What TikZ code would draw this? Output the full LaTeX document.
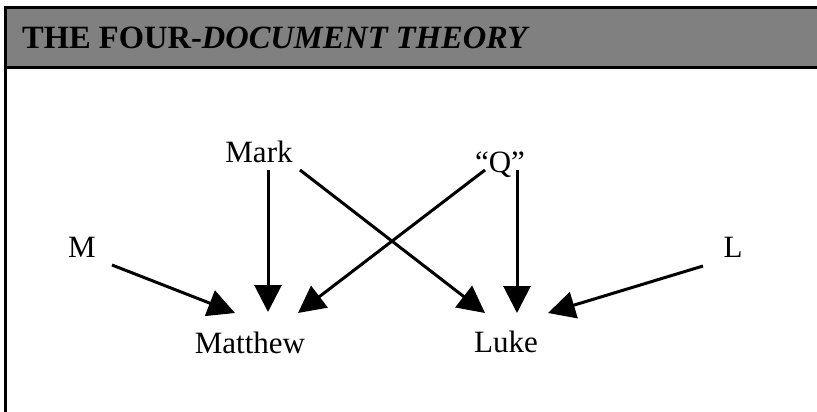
\documentclass[tikz,border=0pt]{standalone}
\usepackage{fontspec}
\setmainfont{Liberation Serif}
\usetikzlibrary{arrows.meta}
\definecolor{headgray}{RGB}{128,128,128}
\begin{document}
\begin{tikzpicture}[x=1pt,y=-1pt,
  lbl/.style={anchor=base,inner sep=0pt,font=\fontsize{31}{31}\selectfont},
  conn/.style={line width=3pt,-{Triangle[length=27pt,width=27pt]}},
  frame/.style={line width=3pt}]
\useasboundingbox (0,0) rectangle (817,412);
% header
\fill[headgray] (5.5,7.5) rectangle (817,67.5);
\draw[frame] (817,7.5) -- (5.5,7.5) -- (5.5,412);
\draw[frame] (5.5,67.5) -- (817,67.5);
\node[anchor=base west,inner sep=0pt,font=\fontsize{32.5}{32.5}\selectfont\bfseries] (title) at (22,49) {THE FOUR-\textit{DOCUMENT THEORY}};
% labels
\node[lbl] (Mark) at (259,162) {Mark};
\node[lbl] (Q) at (500,172) {“Q”};
\node[lbl] (M) at (82,257) {M};
\node[lbl] (L) at (733,257) {L};
\node[lbl] (Matthew) at (250,353) {Matthew};
\node[lbl] (Luke) at (506,352) {Luke};
% connectors
\draw[conn] ([shift={(30,8)}]M.base) -- ([shift={(-15,-40)}]Matthew.base);
\draw[conn] ([shift={(9,8)}]Mark.base) -- ([shift={(18,-41)}]Matthew.base);
\draw[conn] ([shift={(-15,-2)}]Q.base) -- ([shift={(48,-40)}]Matthew.base);
\draw[conn] ([shift={(41,8)}]Mark.base) -- ([shift={(-21,-39)}]Luke.base);
\draw[conn] ([shift={(17,-2)}]Q.base) -- ([shift={(11,-39)}]Luke.base);
\draw[conn] ([shift={(-30,9)}]L.base) -- ([shift={(42,-39)}]Luke.base);
\end{tikzpicture}
\end{document}
